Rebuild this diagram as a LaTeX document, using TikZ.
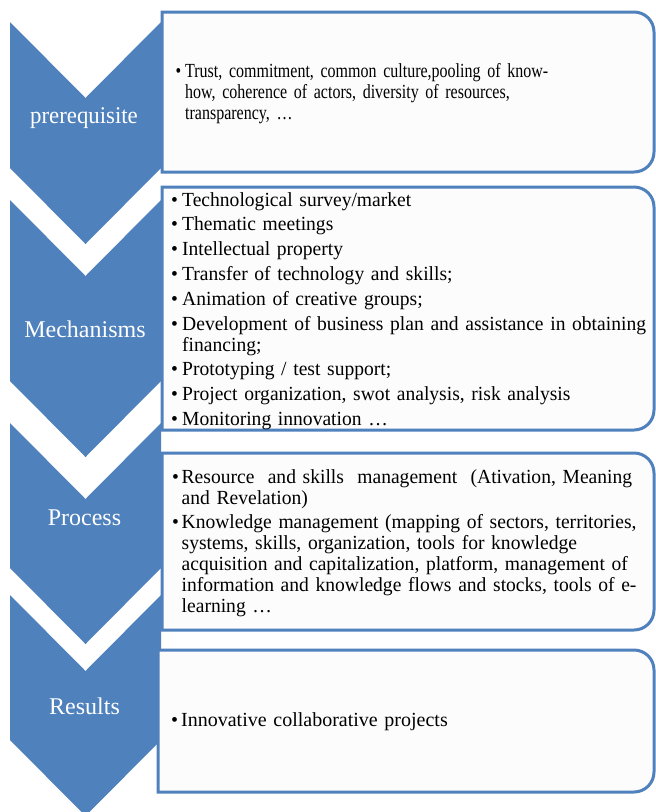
\documentclass[tikz,border=0pt]{standalone}
\usepackage{fontspec}
\setmainfont{Liberation Serif}
\newfontfamily\narrowserif[FakeStretch=0.80]{Liberation Serif}
\newfontfamily\slightserif[FakeStretch=0.978]{Liberation Serif}
\newfontfamily\stageserifnarrow[FakeStretch=0.95]{Liberation Serif}
\definecolor{chevblue}{HTML}{4F81BD}
\definecolor{panelline}{HTML}{4F81BD}
\definecolor{panelfill}{HTML}{FCFCFC}
\newcommand\itemfont{\fontsize{20}{21}\selectfont}
\newcommand\stagefont{\fontsize{24}{26}\selectfont}
\newlength\bulletw
\setlength\bulletw{11pt}
% one bulleted entry with a hanging indent
\newcommand\bitem{\par\hangindent=\bulletw\hangafter=1\noindent
  \makebox[\bulletw][l]{\textbullet}\strut}
% panel with square left corners and rounded right corners: left, top, bottom
\newcommand\panelpath[3]{%
  \draw[panel] (#1,#2) -- (634,#2) arc[start angle=-90,end angle=0,radius=20]
    -- (654,#3-20) arc[start angle=0,end angle=90,radius=20] -- (#1,#3) -- cycle;}
% downward chevron: top, bottom of the left edge
\newcommand\chevronpath[2]{%
  \fill[chev] (10,#1) -- (85.5,#1+76) -- (161,#1) -- (161,#2) -- (85.5,#2+76) -- (10,#2) -- cycle;}
\begin{document}
\begin{tikzpicture}[x=1pt,y=-1pt,
  chev/.style={fill=chevblue},
  panel/.style={draw=panelline, line width=3pt, fill=panelfill},
  stage/.style={text=white, font=\stagefont, inner sep=0pt, anchor=base},
  bullets/.style={font=\itemfont, inner sep=0pt, anchor=north west,
    text width=#1, align=left,
    execute at begin node={\setlength{\parskip}{3.8pt}\hyphenpenalty=10000\relax}}]
\fill[white] (0,0) rectangle (656,812);
\useasboundingbox (0,0) rectangle (656,812);

% chevrons
\chevronpath{22}{168}
\chevronpath{200}{381}
\chevronpath{423}{568}
\chevronpath{595}{740}

% panels
\panelpath{162}{12}{172}
\panelpath{162}{187}{430}
\panelpath{162}{453}{630}
\panelpath{158}{650}{792}

% stage labels
\node[stage, font=\stagefont\stageserifnarrow] (s1) at (84,123) {prerequisite};
\node[stage] (s2) at (85,337) {Mechanisms};
\node[stage] (s3) at (84.5,525) {Process};
\node[stage] (s4) at (84.5,714) {Results};

% panel contents
\node[bullets=470pt, font=\itemfont\narrowserif] (t1) at (175.5,52.5) {%
  \setlength\bulletw{9.5pt}%
  \bitem Trust, commitment, common culture,pooling of know-\newline
  how, coherence of actors, diversity of resources,\newline
  transparency, …\par};

\node[bullets=500pt, font=\itemfont\slightserif] (t2) at (171,181) {%
  \bitem Technological survey/market
  \bitem Thematic meetings
  \bitem Intellectual property
  \bitem Transfer of technology and skills;
  \bitem Animation of creative groups;
  \bitem Development of business plan and assistance in obtaining\newline
  financing;
  \bitem Prototyping / test support;
  \bitem Project organization, swot analysis, risk analysis
  \bitem Monitoring innovation …\par};

\node[bullets=490pt, font=\itemfont\slightserif] (t3) at (172,458) {%
  \setlength\bulletw{9.5pt}%
  \bitem \makebox[447pt][s]{Resource\ \ and skills\ \ management\ \ (Ativation, Meaning}\newline
  and Revelation)
  \bitem Knowledge management (mapping of sectors, territories,\newline
  systems, skills, organization, tools for knowledge\newline
  acquisition and capitalization, platform, management of\newline
  information and knowledge flows and stocks, tools of e-\newline
  learning …\par};

\node[bullets=480pt] (t4) at (171,701) {%
  \setlength\bulletw{10pt}%
  \bitem Innovative collaborative projects\par};
\end{tikzpicture}
\end{document}
